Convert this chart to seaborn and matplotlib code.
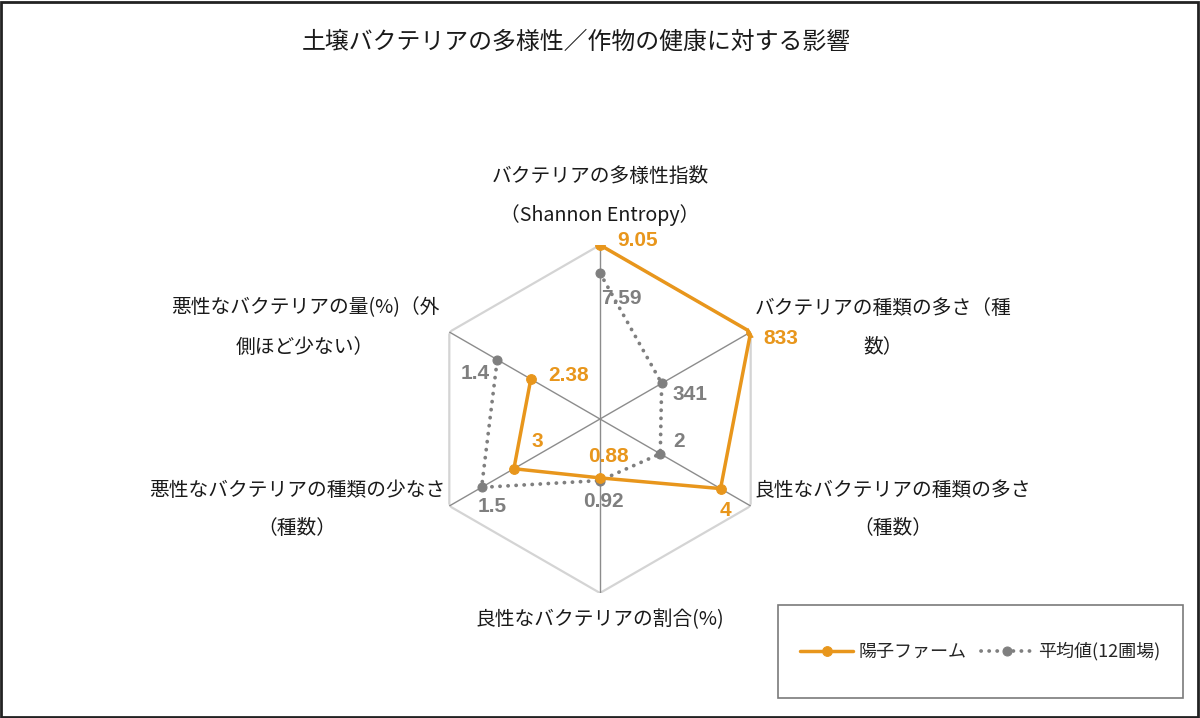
import numpy as np
import pandas as pd
import matplotlib
matplotlib.use("Agg")
import matplotlib.pyplot as plt
from matplotlib.patches import Rectangle
import seaborn as sns

# chart data
axis_labels = [
    "バクテリアの多様性指数\n（Shannon Entropy）",
    "バクテリアの種類の多さ（種\n数）",
    "良性なバクテリアの種類の多さ\n（種数）",
    "良性なバクテリアの割合(%)",
    "悪性なバクテリアの種類の少なさ\n（種数）",
    "悪性なバクテリアの量(%)（外\n側ほど少ない）",
]
farm_name = "陽子ファーム"
avg_name = "平均値(12圃場)"
farm_values = [9.05, 833, 4, 0.88, 3, 2.38]
avg_values = [7.59, 341, 2, 0.92, 1.5, 1.4]
farm_labels = ["9.05", "833", "4", "0.88", "3", "2.38"]
avg_labels = ["7.59", "341", "2", "0.92", "1.5", "1.4"]

# scale of each spoke (outer edge value), last two are "fewer is better"
axis_max = [9.05, 833, 5, 2.6, 7, 4.4]
inverted = [False, False, False, False, True, True]

ORANGE = "#E8961C"
GREY = "#7F7F7F"

sns.set_style("white")
plt.rcParams["font.family"] = ["Noto Sans CJK JP", "DejaVu Sans"]

W, H = 1200, 718
fig = plt.figure(figsize=(W / 100, H / 100), dpi=100)

def fx(px):
    return px / W

def fy(py):
    return 1 - py / H

# polar axes centered at (600, 419) px, radius 174 px
cx, cy, R = 600, 419, 174
ax = fig.add_axes([fx(cx - R), fy(cy + R), 2 * R / W, 2 * R / H], projection="polar")
ax.set_theta_zero_location("N")
ax.set_theta_direction(-1)
ax.set_ylim(0, 1)
ax.grid(False)
ax.spines["polar"].set_visible(False)
ax.set_xticks([])
ax.set_yticks([])
ax.patch.set_alpha(0)

n = len(axis_labels)
theta = np.arange(n) * 2 * np.pi / n

def norm(vals):
    out = []
    for v, m, inv in zip(vals, axis_max, inverted):
        out.append(1 - v / m if inv else v / m)
    return np.array(out)

# grid: outer hexagon + spokes
ax.plot(np.append(theta, theta[0]), np.ones(n + 1), color="#D4D4D4", lw=1.6, zorder=1)
for t in theta:
    ax.plot([t, t], [0, 1], color="#8C8C8C", lw=1.0, zorder=1)

df = pd.DataFrame({
    "theta": np.concatenate([np.append(theta, theta[0])] * 2),
    "r": np.concatenate([np.append(norm(farm_values), norm(farm_values)[0]),
                         np.append(norm(avg_values), norm(avg_values)[0])]),
    "series": [farm_name] * (n + 1) + [avg_name] * (n + 1),
})

sns.lineplot(data=df[df.series == avg_name], x="theta", y="r", sort=False, ax=ax,
             color=GREY, lw=2.7, linestyle=(0, (0.05, 2.1)), dash_capstyle="round",
             marker="o", markersize=6.5, markeredgecolor=GREY, zorder=3, label=avg_name)
sns.lineplot(data=df[df.series == farm_name], x="theta", y="r", sort=False, ax=ax,
             color=ORANGE, lw=2.5, marker="o", markersize=7, markeredgecolor=ORANGE,
             zorder=4, label=farm_name)
ax.set_xlabel("")
ax.set_ylabel("")
ax.get_legend().remove()

# data labels: offsets in pixels (dx, dy up), alignment
farm_off = [(17, 4, "left"), (13, -7, "left"), (5, -22, "center"), (8, 21, "center"),
            (23, 27, "center"), (17, 4, "left")]
avg_off = [(1, -25, "left"), (11, -11, "left"), (13, 12, "left"), (3, -21, "center"),
           (11, -19, "center"), (-8, -14, "right")]
for t, r, lab, (dx, dy, ha) in zip(theta, norm(farm_values), farm_labels, farm_off):
    ax.annotate(lab, (t, r), xytext=(dx, dy), textcoords="offset pixels", ha=ha, va="center",
                color=ORANGE, fontsize=15, fontweight="bold", family="Liberation Sans", zorder=6)
for t, r, lab, (dx, dy, ha) in zip(theta, norm(avg_values), avg_labels, avg_off):
    ax.annotate(lab, (t, r), xytext=(dx, dy), textcoords="offset pixels", ha=ha, va="center",
                color=GREY, fontsize=15, fontweight="bold", family="Liberation Sans", zorder=6)

# axis category labels (centre x, first line y) in pixels
label_pos = [(600, 176), (883, 308), (893, 490), (600, 620), (297, 490), (305, 308)]
for text, (px, py) in zip(axis_labels, label_pos):
    for k, line in enumerate(text.split("\n")):
        fig.text(fx(px), fy(py + k * 39), line, ha="center", va="center",
                 fontsize=14.2, color="#1A1A1A")

fig.text(fx(576), fy(42), "土壌バクテリアの多様性／作物の健康に対する影響",
         ha="center", va="center", fontsize=17.2, color="#1A1A1A")

# legend in a fixed box
box = Rectangle((fx(778), fy(698)), fx(405), 93 / H, transform=fig.transFigure,
                fill=False, edgecolor="#7A7A7A", lw=1.2)
fig.patches.append(box)
handles, labels = ax.get_legend_handles_labels()
fig.legend(handles[::-1], labels[::-1], loc="center",
           bbox_to_anchor=(fx(778), fy(698), fx(405), 93 / H), ncol=2, frameon=False,
           fontsize=13, handlelength=2.9, handletextpad=0.3, columnspacing=0.8)

# outer border
fig.patches.append(Rectangle((0.001, 0.002), 0.997, 0.995, transform=fig.transFigure,
                             fill=False, edgecolor="#222222", lw=2))

fig.savefig("out.png", dpi=100)
